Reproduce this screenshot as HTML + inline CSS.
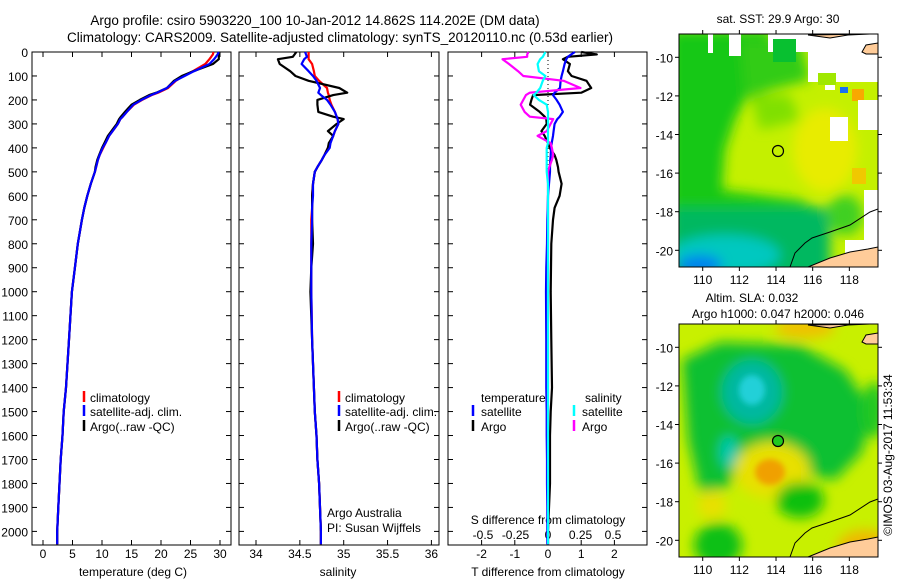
<!DOCTYPE html>
<html><head><meta charset="utf-8"><style>
html,body{margin:0;padding:0;background:#fff;}
svg{display:block;font-family:"Liberation Sans",sans-serif;}
text{font-size:12px;fill:#000;}
</style></head><body>
<svg id="fig" width="900" height="580" viewBox="0 0 900 580" xmlns="http://www.w3.org/2000/svg">
<defs>
<filter id="bl" x="-50%" y="-50%" width="200%" height="200%"><feGaussianBlur stdDeviation="6"/></filter>
<filter id="bl2" x="-50%" y="-50%" width="200%" height="200%"><feGaussianBlur stdDeviation="3"/></filter>
<clipPath id="c1"><rect x="679" y="34" width="199" height="233"/></clipPath>
<clipPath id="c2"><rect x="679" y="324" width="199" height="233"/></clipPath>
</defs>
<text x="315" y="25" text-anchor="middle" style="font-size:13.5px">Argo profile: csiro 5903220_100 10-Jan-2012 14.862S 114.202E (DM data)</text>
<text x="340" y="42" text-anchor="middle" style="font-size:13.5px">Climatology: CARS2009. Satellite-adjusted climatology: synTS_20120110.nc (0.53d earlier)</text>

<!-- SST map -->
<g clip-path="url(#c1)">
<rect x="679" y="34" width="199" height="233" fill="#c4f000"/>
<g filter="url(#bl)">
<polygon points="670,30 770,30 770,60 750,90 735,120 725,150 722,190 800,200 830,215 830,280 670,280" fill="#18c818"/>
<polygon points="740,40 800,40 810,80 770,90 745,100" fill="#30cc18"/>
<polygon points="750,95 790,95 800,120 760,130" fill="#80e000"/>
<rect x="670" y="208" width="160" height="70" fill="#00b860"/>
<ellipse cx="725" cy="255" rx="55" ry="20" fill="#00c8c0"/>
<ellipse cx="700" cy="265" rx="22" ry="10" fill="#0080f0"/>
<ellipse cx="825" cy="150" rx="32" ry="42" fill="#e8ec00"/>
<ellipse cx="845" cy="215" rx="18" ry="20" fill="#40d020"/>
</g>
<rect x="852" y="89" width="12" height="12" fill="#f8a800"/>
<rect x="852" y="168" width="14" height="16" fill="#f0c800"/>
<rect x="840" y="87" width="8" height="6" fill="#1870f0"/>
<rect x="768" y="34" width="110" height="18" fill="#fff"/>
<rect x="808" y="34" width="70" height="48" fill="#fff"/>
<rect x="825" y="82" width="10" height="8" fill="#fff"/>
<rect x="773" y="39" width="23" height="23" fill="#08c030"/>
<rect x="818" y="73" width="18" height="12" fill="#a0e800"/>
<rect x="708" y="34" width="5" height="19" fill="#fff"/>
<rect x="729" y="34" width="12" height="22" fill="#fff"/>
<rect x="830" y="117" width="18" height="24" fill="#fff"/>
<rect x="858" y="100" width="20" height="30" fill="#fff"/>
<rect x="864" y="190" width="14" height="60" fill="#fff"/>
<rect x="845" y="240" width="33" height="27" fill="#fff"/>
<polygon points="808,267 830,258 850,252 868,249 878,247 878,267" fill="#ffcc99" stroke="#000" stroke-width="1"/>
<polygon points="862,52 866,45 878,43 878,54 866,54" fill="#ffcc99" stroke="#000" stroke-width="1"/>
<polygon points="808,35 830,38 848,35 870,34" fill="#ffcc99" stroke="#000" stroke-width="1"/>
<polyline points="878,209 870,212 850,225 830,232 812,238 805,243 795,253 790,267" fill="none" stroke="#000" stroke-width="1"/>
</g>
<rect x="679" y="34" width="199" height="233" fill="none" stroke="#000" stroke-width="1"/>
<circle cx="778" cy="151" r="5.5" fill="none" stroke="#000" stroke-width="1.2"/>
<text x="778" y="23" text-anchor="middle">sat. SST: 29.9 Argo: 30</text>

<!-- SLA map -->
<g clip-path="url(#c2)">
<rect x="679" y="324" width="199" height="233" fill="#c8f000"/>
<g filter="url(#bl)">
<polygon points="682,360 720,342 800,345 845,370 872,410 862,452 835,480 795,472 770,440 745,452 728,488 700,492 688,440" fill="#10c030"/>
<ellipse cx="752" cy="392" rx="30" ry="32" fill="#00b8a0"/>
<ellipse cx="729" cy="452" rx="9" ry="16" fill="#00c8b0"/>
<ellipse cx="772" cy="470" rx="38" ry="28" fill="#e8e000"/>
<ellipse cx="800" cy="500" rx="24" ry="18" fill="#10c010"/>
<ellipse cx="718" cy="545" rx="24" ry="22" fill="#10c018"/>
<ellipse cx="874" cy="410" rx="12" ry="28" fill="#20c820"/>
<ellipse cx="805" cy="328" rx="30" ry="10" fill="#f0c000"/>
<ellipse cx="865" cy="548" rx="28" ry="18" fill="#f0b800"/>
<ellipse cx="712" cy="505" rx="14" ry="14" fill="#e8e000"/>
</g>
<g filter="url(#bl2)">
<ellipse cx="752" cy="390" rx="13" ry="15" fill="#20d0d8"/>
<ellipse cx="770" cy="472" rx="15" ry="13" fill="#f0a000"/>
</g>
<polygon points="808,557 830,548 850,542 868,539 878,537 878,557" fill="#ffcc99" stroke="#000" stroke-width="1"/>
<polygon points="862,342 866,335 878,333 878,344 866,344" fill="#ffcc99" stroke="#000" stroke-width="1"/>
<polygon points="808,325 830,328 848,325 870,324" fill="#ffcc99" stroke="#000" stroke-width="1"/>
<polyline points="878,499 870,502 850,515 830,522 812,528 805,533 795,543 790,557" fill="none" stroke="#000" stroke-width="1"/>
</g>
<rect x="679" y="324" width="199" height="233" fill="none" stroke="#000" stroke-width="1"/>
<circle cx="778" cy="441" r="5.5" fill="#20c820" stroke="#000" stroke-width="1.2"/>
<text x="752" y="302" text-anchor="middle">Altim. SLA: 0.032</text>
<text x="778" y="318" text-anchor="middle">Argo h1000: 0.047 h2000: 0.046</text>
<text transform="translate(892,455) rotate(-90)" text-anchor="middle">©IMOS 03-Aug-2017 11:53:34</text>

<g id="plots"></g>
</svg>
<script>
// ---------- data ----------
const depth  = [0,10,20,30,50,80,100,120,150,170,180,200,220,250,270,280,300,330,350,380,400,430,450,480,500,550,600,650,700,800,900,1000,1200,1400,1500,1600,1700,1800,1900,2000];
const tArgo  = [29.7,29.9,29.8,29.8,28.8,25.5,23.5,22.2,21.0,19.2,18.0,16.4,15.0,13.9,13.2,12.9,12.5,11.6,11.0,10.4,10.0,9.5,9.2,8.9,8.8,8.1,7.5,7.0,6.6,5.9,5.4,4.9,4.4,3.9,3.5,3.3,3.0,2.8,2.6,2.4];
const tClim  = [28.9,28.8,28.5,28.2,27.5,25.4,23.8,22.5,21.2,19.5,18.4,16.8,15.4,14.2,13.5,13.1,12.7,11.8,11.2,10.6,10.2,9.6,9.3,9.0,8.8,8.1,7.5,7.0,6.6,5.9,5.4,4.9,4.4,3.9,3.5,3.3,3.0,2.8,2.6,2.4];
const tSat   = [29.8,29.6,29.3,29.0,28.2,25.6,24.0,22.4,21.0,19.3,18.3,16.7,15.3,14.2,13.5,13.1,12.7,11.8,11.2,10.6,10.1,9.6,9.3,9.0,8.8,8.1,7.5,7.0,6.6,5.9,5.4,4.9,4.4,3.9,3.5,3.3,3.0,2.8,2.6,2.4];
const sArgo  = [34.46,34.44,34.42,34.25,34.27,34.39,34.45,34.60,34.95,35.04,34.88,34.70,34.70,34.71,34.88,35.0,34.92,34.82,34.88,34.83,34.82,34.78,34.75,34.70,34.67,34.65,34.64,34.64,34.64,34.65,34.63,34.62,34.64,34.66,34.67,34.69,34.70,34.72,34.73,34.74];
const sClim  = [34.60,34.60,34.60,34.60,34.64,34.66,34.67,34.72,34.81,34.82,34.83,34.84,34.86,34.90,34.92,34.93,34.94,34.90,34.88,34.84,34.82,34.78,34.75,34.70,34.67,34.65,34.64,34.64,34.63,34.63,34.63,34.63,34.64,34.66,34.67,34.69,34.70,34.72,34.73,34.74];
const sSat   = [34.56,34.57,34.58,34.55,34.52,34.60,34.65,34.69,34.73,34.71,34.74,34.81,34.85,34.90,34.92,34.93,34.94,34.90,34.88,34.85,34.84,34.78,34.75,34.70,34.67,34.65,34.65,34.64,34.64,34.63,34.63,34.63,34.64,34.66,34.67,34.69,34.70,34.72,34.73,34.74];
const dTArgo = [1.0,1.47,0.6,0.45,0.66,0.6,0.71,1.16,1.3,1.0,-0.45,-0.5,-0.54,-0.25,-0.1,-0.05,-0.04,-0.2,-0.1,0.0,0.05,0.2,0.25,0.3,0.32,0.41,0.35,0.2,0.15,0.1,0.09,0.08,0.1,0.12,0.08,0.06,0.06,0.06,0.03,0.0];
const dTSat  = [0.81,0.7,0.6,0.55,0.5,0.45,0.41,0.38,0.36,0.2,0.15,0.26,0.35,0.45,0.35,0.28,0.2,0.17,0.15,0.11,0.09,0.08,0.07,0.06,0.06,0.03,0.0,-0.01,-0.02,-0.03,-0.05,-0.06,-0.05,-0.05,-0.04,-0.04,-0.03,-0.03,-0.02,-0.02];
const dSArgo = [-0.15,-0.16,-0.16,-0.35,-0.3,-0.23,-0.19,0.12,0.25,-0.14,-0.17,-0.19,-0.21,-0.18,-0.14,0.04,0.02,-0.01,-0.08,0.02,0.03,0.04,0.03,0.01,0.0,0.0,0.0,0.0,0.0,0.0,0.0,0.0,0.0,0.0,0.0,0.0,0.0,0.0,0.0,0.0];
const dSSat  = [-0.02,-0.03,-0.04,-0.06,-0.08,-0.07,-0.02,-0.04,-0.06,-0.09,-0.11,-0.07,-0.01,0.0,0.0,0.0,0.0,0.0,0.0,0.0,-0.01,-0.01,-0.01,-0.01,-0.01,0.0,0.0,0.0,0.0,0.0,0.0,0.0,0.0,0.0,0.0,0.0,0.0,0.0,0.0,0.0];
const depthTicks = [0,100,200,300,400,500,600,700,800,900,1000,1100,1200,1300,1400,1500,1600,1700,1800,1900,2000];
const tTicks = [0,5,10,15,20,25,30];
const sTicks = [34,34.5,35,35.5,36];
const sTickLabels = ["34","34.5","35","35.5","36"];
const dTTicks = [-2,-1,0,1,2];
const dSTicks = [-0.5,-0.25,0,0.25,0.5];
const dSTickLabels = ["-0.5","-0.25","0","0.25","0.5"];
const lonTicks = [110,112,114,116,118];
const latTicks = [-10,-12,-14,-16,-18,-20];

// ---------- scales ----------
const NS='http://www.w3.org/2000/svg';
const top0=52, bot=545;
const yD = d => 52 + d*0.2397;
const xT = t => 43 + t*5.9;
const xS = s => 256 + (s-34)*87.7;
const xDT = v => 548 + v*33.2;
const xDS = v => 548 + v*130;
const xLon = l => 702.7 + (l-110)*18.33;
const yLat1 = l => 57.3 + (-10-l)*19.3;
const yLat2 = l => 347.3 + (-10-l)*19.3;
const root=document.getElementById('plots');
function mk(tag,attrs,parent){const e=document.createElementNS(NS,tag);for(const k in attrs)e.setAttribute(k,attrs[k]);(parent||root).appendChild(e);return e;}
function txt(x,y,s,anchor,name){const e=mk('text',{x:x,y:y,'text-anchor':anchor||'middle'});e.textContent=s;


return e;}
function line(vals,xf,color,name){
  const pts=vals.map((v,i)=>xf(v).toFixed(1)+','+yD(depth[i]).toFixed(1));
  pts.push(xf(vals[vals.length-1]).toFixed(1)+','+yD(2054).toFixed(1));
  const e=mk('polyline',{points:pts.join(' '),fill:'none',stroke:color,'stroke-width':2.2,'stroke-linejoin':'round'});
  
  
}
function frame(x0,x1,name){
  const r=mk('rect',{x:x0,y:top0,width:x1-x0,height:bot-top0,fill:'none',stroke:'#000','stroke-width':1});
  
  
  depthTicks.forEach(d=>{mk('line',{x1:x0,x2:x0+5,y1:yD(d),y2:yD(d),stroke:'#000'});mk('line',{x1:x1-5,x2:x1,y1:yD(d),y2:yD(d),stroke:'#000'});});
}
function xticks(ticks,labels,xf,ly,name){
  ticks.forEach((t,i)=>{const x=xf(t);mk('line',{x1:x,x2:x,y1:top0,y2:top0+5,stroke:'#000'});mk('line',{x1:x,x2:x,y1:bot-5,y2:bot,stroke:'#000'});
  txt(x,ly,labels[i],'middle',name);});
}
function legendTick(x,y,color,name){const e=mk('line',{x1:x,x2:x,y1:y-11,y2:y,stroke:color,'stroke-width':2.5});

}

// panel 1
frame(32,231,'temperature-panel');
depthTicks.forEach(d=>txt(28,yD(d)+5,String(d),'end','depth-tick-label'));
xticks(tTicks,tTicks.map(String),xT,558,'temperature-tick-label');
txt(133,576,'temperature (deg C)','middle','temperature-axis-title');
line(tClim,xT,'#f00','temp-climatology-line');
line(tArgo,xT,'#000','temp-argo-line');
line(tSat,xT,'#00f','temp-satellite-line');
legendTick(84,402,'#f00','legend-climatology-marker');txt(90,402,'climatology','start','legend-climatology');
legendTick(84,416,'#00f','legend-satellite-marker');txt(90,416,'satellite-adj. clim.','start','legend-satellite');
legendTick(84,431,'#000','legend-argo-marker');txt(90,431,'Argo(..raw -QC)','start','legend-argo');

// panel 2
frame(239,439,'salinity-panel');
xticks(sTicks,sTickLabels,xS,558,'salinity-tick-label');
txt(338,576,'salinity','middle','salinity-axis-title');
line(sClim,xS,'#f00','sal-climatology-line');
line(sArgo,xS,'#000','sal-argo-line');
line(sSat,xS,'#00f','sal-satellite-line');
legendTick(339,402,'#f00','legend2-climatology-marker');txt(345,402,'climatology','start','legend2-climatology');
legendTick(339,416,'#00f','legend2-satellite-marker');txt(345,416,'satellite-adj. clim.','start','legend2-satellite');
legendTick(339,431,'#000','legend2-argo-marker');txt(345,431,'Argo(..raw -QC)','start','legend2-argo');
txt(327,517,'Argo Australia','start','credit-argo-australia');
txt(327,532,'PI: Susan Wijffels','start','credit-pi');

// panel 3
frame(448,647,'difference-panel');
xticks(dTTicks,dTTicks.map(String),xDT,558,'tdiff-tick-label');
dSTicks.forEach((t,i)=>txt(xDS(t),539,dSTickLabels[i],'middle','sdiff-tick-label'));
txt(548,576,'T difference from climatology','middle','tdiff-axis-title');
txt(548,524,'S difference from climatology','middle','sdiff-axis-title');
mk('line',{x1:548,x2:548,y1:top0,y2:bot,stroke:'#000','stroke-dasharray':'1,3'});
line(dTArgo,xDT,'#000','tdiff-argo-line');
line(dTSat,xDT,'#00f','tdiff-satellite-line');
line(dSArgo,xDS,'#f0f','sdiff-argo-line');
line(dSSat,xDS,'#0ff','sdiff-satellite-line');
txt(481,402,'temperature','start','legend3-temperature-header');
legendTick(473,416,'#00f','legend3-tsat-marker');txt(481,416,'satellite','start','legend3-tsat');
legendTick(473,431,'#000','legend3-targo-marker');txt(481,431,'Argo','start','legend3-targo');
txt(585,402,'salinity','start','legend3-salinity-header');
legendTick(574,416,'#0ff','legend3-ssat-marker');txt(582,416,'satellite','start','legend3-ssat');
legendTick(574,431,'#f0f','legend3-sargo-marker');txt(582,431,'Argo','start','legend3-sargo');

// map axes
[[yLat1,267,34,284],[yLat2,557,324,574]].forEach(([yl,b,t,ly],k)=>{
  lonTicks.forEach(l=>{const x=xLon(l);mk('line',{x1:x,x2:x,y1:b,y2:b+4,stroke:'#000'});mk('line',{x1:x,x2:x,y1:t-4,y2:t,stroke:'#000'});
    txt(x,ly,String(l),'middle',k?'sla-lon-label':'sst-lon-label');});
  latTicks.forEach(l=>{const y=yl(l);mk('line',{x1:675,x2:679,y1:y,y2:y,stroke:'#000'});mk('line',{x1:878,x2:882,y1:y,y2:y,stroke:'#000'});
    txt(673,y+5,String(l),'end',k?'sla-lat-label':'sst-lat-label');});
});
</script>
</body></html>
